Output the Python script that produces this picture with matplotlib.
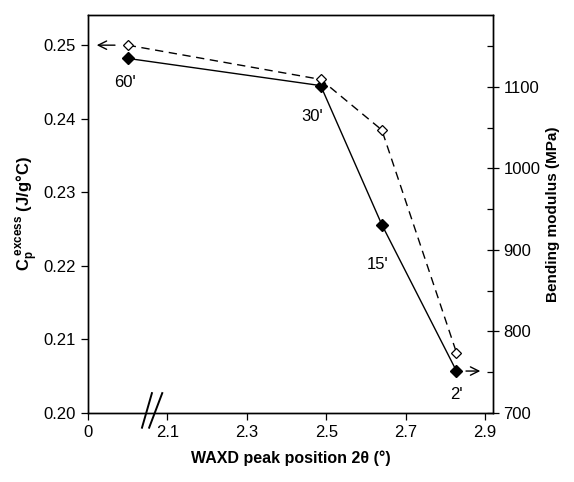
import matplotlib
matplotlib.use("Agg")
import matplotlib.pyplot as plt

plt.rcParams['font.family'] = ['Liberation Sans', 'DejaVu Sans']
plt.rcParams['mathtext.fontset'] = 'custom'
plt.rcParams['mathtext.bf'] = 'Liberation Sans:bold'
plt.rcParams['mathtext.rm'] = 'Liberation Sans'

# data
waxd_pos = [2.0, 2.486, 2.64, 2.828]
cp_excess = [0.2482, 0.2445, 0.2256, 0.2057]
bend_mod = [1151, 1109, 1047, 774]
time_labels = ["60'", "30'", "15'", "2'"]
xticks = [1.9, 2.1, 2.3, 2.5, 2.7, 2.9]
xticklabels = ['0', '2.1', '2.3', '2.5', '2.7', '2.9']

fig = plt.figure(figsize=(5.74, 4.82), dpi=100)
ax = fig.add_axes([0.1533, 0.1432, 0.7056, 0.8257])
ax2 = ax.twinx()

ax.plot(waxd_pos, cp_excess, '-', color='black', lw=1.0,
        marker='D', ms=6.5, mfc='black', mec='black', zorder=3)
ax2.plot(waxd_pos, bend_mod, '--', color='black', lw=1.0, dashes=(6, 4),
         marker='D', ms=5.5, mfc='white', mec='black', mew=0.9, zorder=3)

ax.set_xlim(1.9, 2.92)
ax.set_ylim(0.20, 0.2541)
ax2.set_ylim(700, 1188)

ax.set_xticks(xticks)
ax.set_xticklabels(xticklabels)
ax.set_yticks([0.20, 0.21, 0.22, 0.23, 0.24, 0.25])
ax2.set_yticks([700, 800, 900, 1000, 1100])
ax2.set_yticks([750, 850, 950, 1050, 1150], minor=True)

ax.tick_params(axis='both', labelsize=12, direction='out', length=5, width=0.9)
ax2.tick_params(axis='y', which='major', labelsize=12, direction='inout', length=8, width=0.9)
ax2.tick_params(axis='y', which='minor', direction='in', length=4, width=0.9)
for sp in ax.spines.values():
    sp.set_linewidth(1.0)
for sp in ax2.spines.values():
    sp.set_linewidth(1.0)

ax.set_ylabel(r'$\mathbf{C_p^{\ excess}}$ (J/g°C)',
              fontsize=12, fontweight='bold', labelpad=2)
ax2.set_ylabel('Bending modulus (MPa)', fontsize=11, fontweight='bold', labelpad=4)
ax.set_xlabel('WAXD peak position 2θ (°)', fontsize=11.5, fontweight='bold', labelpad=8)

# point labels
offsets = [(-2, -17), (-6, -22), (-3, -29), (0, -17)]
for x, y, lab, off in zip(waxd_pos, cp_excess, time_labels, offsets):
    ax.annotate(lab, (x, y), xytext=off, textcoords='offset points',
                ha='center', va='center', fontsize=12)

# arrows showing which axis each series belongs to
ax2.annotate('', xy=(1.915, bend_mod[0]), xytext=(1.975, bend_mod[0]),
             arrowprops=dict(arrowstyle='->', lw=1.0, color='black',
                             mutation_scale=15))
ax.annotate('', xy=(2.895, cp_excess[-1]), xytext=(2.845, cp_excess[-1]),
            arrowprops=dict(arrowstyle='->', lw=1.0, color='black',
                            mutation_scale=15))

# axis break marks
for x0, x1 in ((2.036, 2.061), (2.054, 2.087)):
    ax.plot([x0, x1], [0.198, 0.2027], color='black', lw=1.4,
            clip_on=False, zorder=5)

fig.savefig('out.png', dpi=100)
